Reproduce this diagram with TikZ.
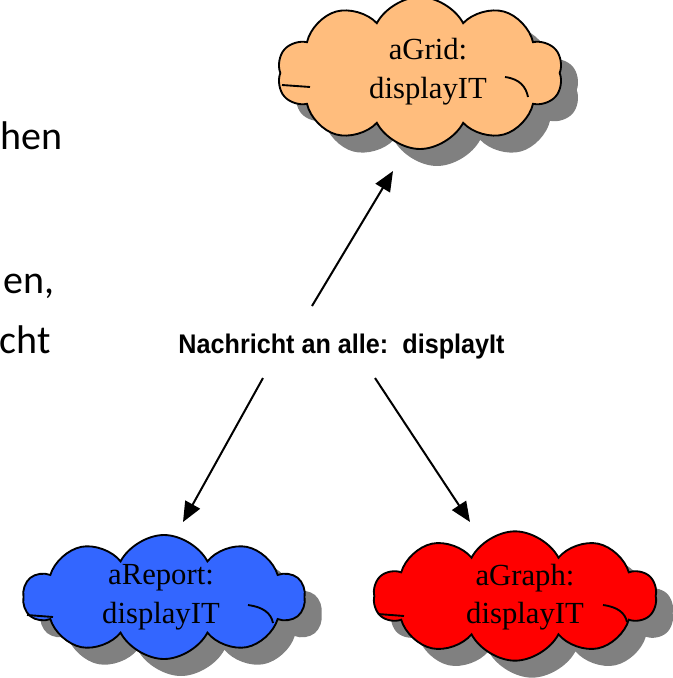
\documentclass[tikz,border=0pt]{standalone}
\usepackage{fontspec}
\setmainfont{Liberation Serif}
\newfontfamily\labelfont{Liberation Sans}
\newfontfamily\slidefont{Carlito}
\usetikzlibrary{shapes.symbols,arrows.meta}
\definecolor{peach}{RGB}{255,189,125}
\definecolor{cblue}{RGB}{51,102,255}
\definecolor{cred}{RGB}{255,0,0}
\definecolor{cshadow}{RGB}{128,128,128}
\tikzset{
  cloudbase/.style={cloud, cloud puffs=10, cloud puff arc=125, cloud ignores aspect, inner sep=0pt},
  cloudbody/.style={cloudbase, draw=black, line width=1.4pt},
  cloudshadow/.style={cloudbase, fill=cshadow, draw=none},
  cloudtext/.style={align=center, inner sep=0pt, font=\fontsize{23}{29}\selectfont},
  curl/.style={line width=1.4pt},
  msgarrow/.style={line width=1.5pt, -{Triangle[length=15pt,width=12.5pt]}},
  slidetext/.style={anchor=base east, inner sep=0pt, font=\slidefont\fontsize{30}{36}\selectfont},
}
\begin{document}
\begin{tikzpicture}[x=0.75pt,y=-0.75pt]
\useasboundingbox (0,0) rectangle (673,678);

% cut-off slide text on the left
\node[slidetext, anchor=base west] (t1) at (0.5,149) {hen};
\node[slidetext] (t2) at (55,293) {en,};
\node[slidetext] (t3) at (51,353) {cht};

% top cloud: aGrid
\node[cloudshadow, minimum width=214pt, minimum height=114pt] (gridsh) at (437,90) {};
\node[cloudbody, fill=peach, minimum width=214pt, minimum height=114pt] (grid) at (420,73) {};
\draw[curl] ([shift={(85,4)}]grid.center) .. controls ([shift={(100,6)}]grid.center) and ([shift={(106,14)}]grid.center) .. ([shift={(108,24)}]grid.center);
\draw[curl] ([shift={(-138,12)}]grid.center) -- ([shift={(-110,14)}]grid.center);
\node[cloudtext] (gridtxt) at (428,72) {aGrid:\\displayIT};

% bottom left cloud: aReport
\node[cloudshadow, minimum width=211pt, minimum height=93pt] (reportsh) at (181,614) {};
\node[cloudbody, fill=cblue, minimum width=211pt, minimum height=93pt] (report) at (164,597) {};
\draw[curl] ([shift={(84,8)}]report.center) .. controls ([shift={(99,10)}]report.center) and ([shift={(107,16)}]report.center) .. ([shift={(109,26)}]report.center);
\draw[curl] ([shift={(-137,18)}]report.center) -- ([shift={(-111,20)}]report.center);
\node[cloudtext] (reporttxt) at (161,597) {aReport:\\displayIT};

% bottom right cloud: aGraph
\node[cloudshadow, minimum width=212pt, minimum height=97pt] (graphsh) at (532,613) {};
\node[cloudbody, fill=cred, minimum width=212pt, minimum height=97pt] (graph) at (515,596) {};
\draw[curl] ([shift={(88,9)}]graph.center) .. controls ([shift={(103,11)}]graph.center) and ([shift={(110,17)}]graph.center) .. ([shift={(112,26)}]graph.center);
\draw[curl] ([shift={(-137,18)}]graph.center) -- ([shift={(-111,20)}]graph.center);
\node[cloudtext] (graphtxt) at (525,597) {aGraph:\\displayIT};

% message label
\node[inner sep=0pt, anchor=base, xscale=0.935, font=\labelfont\bfseries\fontsize{20.2}{24}\selectfont] (msg) at (341.5,353) {Nachricht an alle:~~displayIt};

% arrow end points
\coordinate (a1s) at (312,306);
\coordinate (a1e) at (393,171);
\coordinate (a2s) at (263,378);
\coordinate (a2e) at (183,522);
\coordinate (a3s) at (375,378);
\coordinate (a3e) at (470,522);
\draw[msgarrow] (a1s) -- (a1e);
\draw[msgarrow] (a2s) -- (a2e);
\draw[msgarrow] (a3s) -- (a3e);
\end{tikzpicture}
\end{document}
